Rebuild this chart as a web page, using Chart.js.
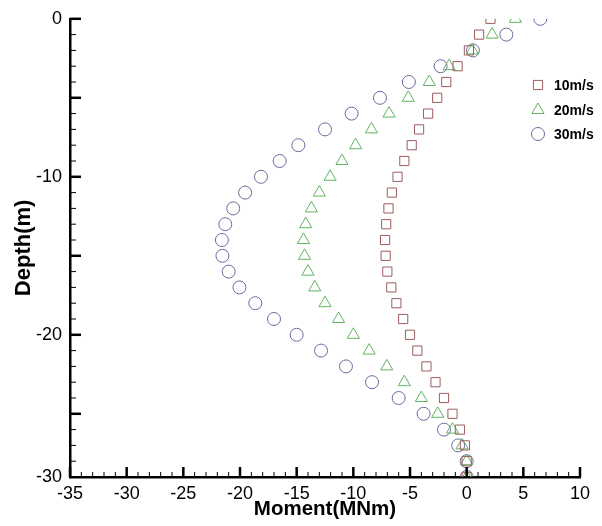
<!DOCTYPE html>
<html>
<head>
<meta charset="utf-8">
<script src="https://cdn.jsdelivr.net/npm/chart.js@4.4.1/dist/chart.umd.min.js"></script>
<style>
  html, body { margin: 0; padding: 0; background: #fff; }
  #wrap { width: 602px; height: 526px; }
</style>
</head>
<body>
<div id="wrap"><canvas id="momentChart" width="602" height="526"></canvas></div>
<script>
// depth of each measuring point (m)
const depths = [0, -1, -2, -3, -4, -5, -6, -7, -8, -9, -10, -11, -12, -13, -14,
  -15, -16, -17, -18, -19, -20, -21, -22, -23, -24, -25, -26, -27, -28, -29];

// bending moment (MNm) per wind speed
const moment10 = [2.1, 1.1, 0.2, -0.8, -1.8, -2.6, -3.4, -4.2, -4.85, -5.5, -6.1, -6.6, -6.9, -7.1, -7.2,
  -7.15, -7.0, -6.65, -6.2, -5.6, -5.0, -4.35, -3.55, -2.75, -2.0, -1.25, -0.6, -0.15, 0, 0];
const moment20 = [4.3, 2.25, 0.5, -1.55, -3.3, -5.15, -6.85, -8.4, -9.8, -11.0, -12.05, -13.0, -13.7, -14.2, -14.4,
  -14.3, -14.0, -13.4, -12.5, -11.3, -10.0, -8.6, -7.05, -5.5, -4.0, -2.55, -1.25, -0.4, 0, 0];
const moment30 = [6.5, 3.5, 0.55, -2.3, -5.1, -7.65, -10.15, -12.5, -14.85, -16.5, -18.15, -19.55, -20.6, -21.3, -21.6,
  -21.55, -21.0, -20.05, -18.65, -17.0, -15.0, -12.85, -10.65, -8.35, -6.0, -3.8, -2.0, -0.75, 0, 0];

const seriesNames = ['10m/s', '20m/s', '30m/s'];

// tick labels
const xTicks = [-35, -30, -25, -20, -15, -10, -5, 0, 5, 10];
const yTickValues = [0, -10, -20, -29];
const yTickLabels = ['0', '-10', '-20', '-30'];

const toPoints = (xs) => xs.map((m, i) => ({ x: m, y: depths[i] }));

// inward tick marks + legend inside the plot
const axisDecor = {
  id: 'axisDecor',
  afterDraw(chart) {
    const ctx = chart.ctx;
    const xs = chart.scales.x, ys = chart.scales.y;
    const left = chart.chartArea.left, bottom = chart.chartArea.bottom;
    ctx.save();
    ctx.strokeStyle = '#000';
    for (let v = xs.min; v <= xs.max; v++) {
      const px = xs.getPixelForValue(v);
      const major = v % 5 === 0;
      ctx.lineWidth = major ? 2.5 : 1;
      ctx.beginPath();
      ctx.moveTo(px, bottom);
      ctx.lineTo(px, bottom - (major ? 10 : 5));
      ctx.stroke();
    }
    for (let v = ys.max; v > ys.min; v--) {
      const py = ys.getPixelForValue(v);
      const major = v % 5 === 0;
      ctx.lineWidth = major ? 2.5 : 1;
      ctx.beginPath();
      ctx.moveTo(left, py);
      ctx.lineTo(left + (major ? 11 : 6), py);
      ctx.stroke();
    }

    // legend
    const lx = 538, ly = [85, 110, 134];
    chart.data.datasets.forEach((ds, i) => {
      ctx.strokeStyle = ds.borderColor;
      ctx.fillStyle = 'rgba(0,0,0,0)';
      Chart.helpers.drawPoint(ctx, {
        pointStyle: ds.pointStyle, radius: ds.pointRadius,
        borderWidth: ds.borderWidth, rotation: 0
      }, lx, ly[i]);
      ctx.fillStyle = '#000';
      ctx.font = 'bold 14px "Liberation Sans", Arial, sans-serif';
      ctx.textBaseline = 'middle';
      ctx.textAlign = 'left';
      ctx.fillText(ds.label, 554, ly[i] + 1);
    });
    ctx.restore();
  }
};

const ctx = document.getElementById('momentChart').getContext('2d');
new Chart(ctx, {
  type: 'scatter',
  data: {
    datasets: [{
      label: seriesNames[0],
      data: toPoints(moment10),
      pointStyle: 'rect',
      pointRadius: 6.5,
      borderColor: '#9c5c5c',
      backgroundColor: 'rgba(0,0,0,0)',
      borderWidth: 1
    }, {
      label: seriesNames[1],
      data: toPoints(moment20),
      pointStyle: 'triangle',
      pointRadius: 7,
      borderColor: '#62b462',
      backgroundColor: 'rgba(0,0,0,0)',
      borderWidth: 1
    }, {
      label: seriesNames[2],
      data: toPoints(moment30),
      pointStyle: 'circle',
      pointRadius: 6.5,
      borderColor: '#6a6a9e',
      backgroundColor: 'rgba(0,0,0,0)',
      borderWidth: 1
    }]
  },
  options: {
    responsive: false,
    animation: false,
    layout: { padding: { top: 14, right: 22, left: 0, bottom: 0 } },
    plugins: { legend: { display: false }, tooltip: { enabled: false } },
    scales: {
      x: {
        type: 'linear',
        min: -35,
        max: 10,
        afterBuildTicks: (scale) => { scale.ticks = xTicks.map(v => ({ value: v })); },
        afterFit: (scale) => { scale.height = 49; },
        grid: { display: false, drawTicks: false },
        border: { display: true, color: '#000', width: 2.5 },
        ticks: {
          padding: 6,
          color: '#000',
          font: { family: '"Liberation Sans", Arial, sans-serif', size: 18 },
          maxRotation: 0
        },
        title: {
          display: true,
          text: 'Moment(MNm)',
          color: '#000',
          padding: { top: 0, bottom: 4 },
          font: { family: '"Liberation Sans", Arial, sans-serif', size: 20.5, weight: 'bold' }
        }
      },
      y: {
        type: 'linear',
        min: -29,
        max: 0,
        afterBuildTicks: (scale) => { scale.ticks = yTickValues.map(v => ({ value: v })); },
        afterFit: (scale) => { scale.width = 70; },
        grid: { display: false, drawTicks: false },
        border: { display: true, color: '#000', width: 2.5 },
        ticks: {
          padding: 8,
          color: '#000',
          font: { family: '"Liberation Sans", Arial, sans-serif', size: 18 },
          callback: (v) => yTickLabels[yTickValues.indexOf(v)]
        },
        title: {
          display: true,
          text: 'Depth(m)',
          color: '#000',
          padding: { top: 11, bottom: 0 },
          font: { family: '"Liberation Sans", Arial, sans-serif', size: 22, weight: 'bold' }
        }
      }
    }
  },
  plugins: [axisDecor]
});
</script>
</body>
</html>
